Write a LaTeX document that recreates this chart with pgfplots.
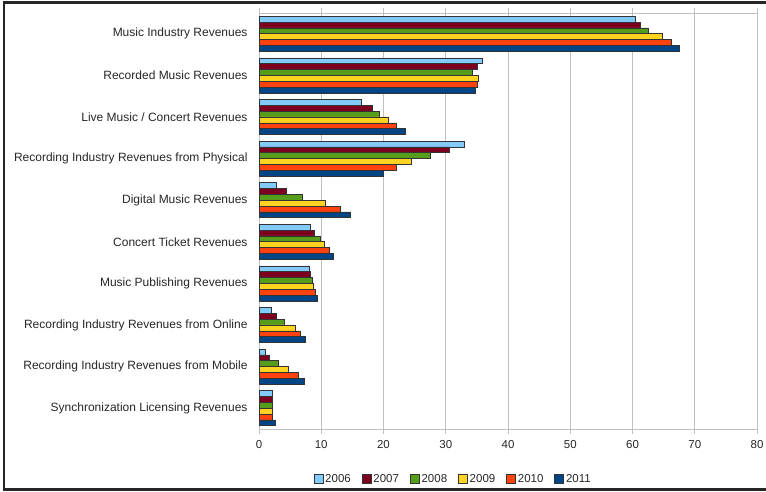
\documentclass[border=0pt]{standalone}
\usepackage{pgfplots}
\pgfplotsset{compat=1.18}
\usepackage{fontspec}
\setmainfont{Liberation Sans}
\definecolor{c2006}{HTML}{83CAFF}
\definecolor{c2007}{HTML}{7E0021}
\definecolor{c2008}{HTML}{579D1C}
\definecolor{c2009}{HTML}{FFD320}
\definecolor{c2010}{HTML}{FF420E}
\definecolor{c2011}{HTML}{004586}
\definecolor{gridc}{HTML}{C0C0C0}
\begin{document}
\begin{tikzpicture}
\useasboundingbox (0bp,0bp) rectangle (766bp,492bp);
\draw[line width=2.2bp, black!85] (4bp,2.5bp) rectangle (770bp,489.5bp);
\begin{axis}[
  at={(259bp,63bp)}, anchor=south west,
  width=498bp, height=416bp, scale only axis,
  xbar=0pt, bar width=5.85bp,
  xmin=0, xmax=80, xtick={0,10,...,80},
  ymin=-0.5, ymax=9.5,
  ytick={0,...,9},
  yticklabels={Synchronization Licensing Revenues, Recording Industry Revenues from Mobile, Recording Industry Revenues from Online, Music Publishing Revenues, Concert Ticket Revenues, Digital Music Revenues, Recording Industry Revenues from Physical, Live Music / Concert Revenues, Recorded Music Revenues, Music Industry Revenues},
  ytick style={draw=none},
  extra y ticks={-0.5,0.5,...,9.5},
  extra y tick labels={},
  extra y tick style={tick style={draw=gridc, line width=0.8bp}, major tick length=7bp, tick align=outside},
  xtick style={draw=gridc, line width=0.8bp},
  tick align=outside, major tick length=5bp,
  axis line style={draw=gridc, line width=0.8bp},
  xmajorgrids, grid style={draw=gridc, line width=0.8bp},
  /pgf/number format/assume math mode=true,
  ticklabel style={font=\fontsize{12bp}{14bp}\selectfont, text=black!85},
  yticklabel style={xshift=-3bp},
  xticklabel style={yshift=-3bp, font=\fontsize{11.5bp}{13bp}\selectfont},
  legend columns=6,
  legend style={draw=none, fill=none, at={(0.39,-0.12)}, anchor=center,
    font=\fontsize{11.5bp}{13bp}\selectfont, text=black!85,
    /tikz/every even column/.append style={column sep=9bp}},
  legend image code/.code={\draw[#1, draw=black!80, line width=0.6bp] (0bp,-4.5bp) rectangle (9bp,4.5bp);},
  every axis plot/.append style={draw=black!80, line width=0.6bp},
]
\addplot[fill=c2006, /pgf/bar shift=14.625bp] coordinates {(60.5,9) (35.9,8) (16.5,7) (33.0,6) (2.8,5) (8.3,4) (8.0,3) (1.9,2) (1.0,1) (2.1,0)};
\addplot[fill=c2007, /pgf/bar shift=8.775bp] coordinates {(61.3,9) (35.0,8) (18.2,7) (30.5,6) (4.4,5) (8.9,4) (8.2,3) (2.8,2) (1.7,1) (2.1,0)};
\addplot[fill=c2008, /pgf/bar shift=2.925bp] coordinates {(62.5,9) (34.3,8) (19.4,7) (27.5,6) (7.0,5) (9.9,4) (8.5,3) (4.1,2) (3.1,1) (2.2,0)};
\addplot[fill=c2009, /pgf/bar shift=-2.925bp] coordinates {(64.8,9) (35.3,8) (20.8,7) (24.5,6) (10.7,5) (10.5,4) (8.8,3) (5.8,2) (4.7,1) (2.2,0)};
\addplot[fill=c2010, /pgf/bar shift=-8.775bp] coordinates {(66.3,9) (35.0,8) (22.0,7) (22.0,6) (13.0,5) (11.3,4) (9.0,3) (6.6,2) (6.3,1) (2.2,0)};
\addplot[fill=c2011, /pgf/bar shift=-14.625bp] coordinates {(67.5,9) (34.7,8) (23.5,7) (19.9,6) (14.7,5) (11.9,4) (9.3,3) (7.5,2) (7.3,1) (2.6,0)};
\legend{2006,2007,2008,2009,2010,2011}
\end{axis}
\end{tikzpicture}
\end{document}
